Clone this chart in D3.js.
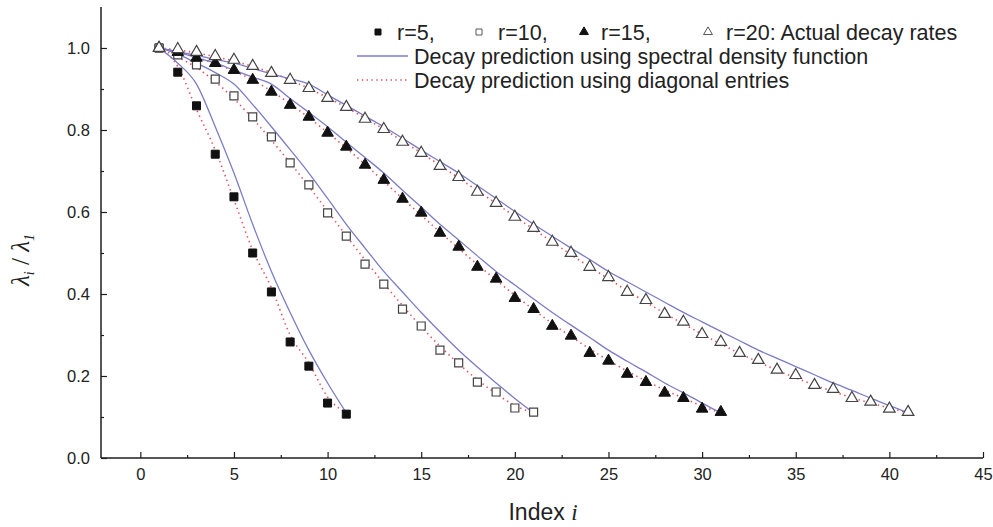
<!DOCTYPE html>
<html>
<head>
<meta charset="utf-8">
<script src="https://cdn.jsdelivr.net/npm/d3@7"></script>
<style>
  html, body { margin: 0; padding: 0; background: #ffffff; }
  svg { display: block; }
  text { font-family: "Liberation Sans", Arial, sans-serif; fill: #222; }
</style>
</head>
<body>
<svg id="chart" width="993" height="527"></svg>
<script>
// ---- Data (index i starts at 1 for every array) ----
const seriesNames = ["r=5", "r=10", "r=15", "r=20"];

// Actual decay rates (markers)
const actual5  = [1.0, 0.941, 0.859, 0.741, 0.637, 0.500, 0.405, 0.283, 0.224, 0.134, 0.107];
const actual10 = [1.0, 0.983, 0.959, 0.924, 0.883, 0.832, 0.783, 0.720, 0.666, 0.598, 0.541,
                  0.473, 0.424, 0.363, 0.322, 0.263, 0.232, 0.185, 0.161, 0.122, 0.112];
const actual15 = [1.0, 0.990, 0.976, 0.963, 0.946, 0.922, 0.893, 0.861, 0.832, 0.793, 0.759,
                  0.715, 0.678, 0.632, 0.598, 0.549, 0.515, 0.466, 0.437, 0.390, 0.363,
                  0.322, 0.298, 0.256, 0.237, 0.205, 0.185, 0.159, 0.146, 0.120, 0.112];
const actual20 = [1.0, 0.997, 0.990, 0.980, 0.971, 0.956, 0.939, 0.922, 0.902, 0.878, 0.856,
                  0.827, 0.802, 0.771, 0.744, 0.712, 0.685, 0.649, 0.622, 0.588, 0.561,
                  0.527, 0.500, 0.466, 0.441, 0.405, 0.385, 0.351, 0.332, 0.302, 0.283,
                  0.256, 0.239, 0.215, 0.202, 0.178, 0.168, 0.146, 0.137, 0.120, 0.112];

// Decay prediction using spectral density function (solid)
const spectral5  = [1.0, 0.963, 0.912, 0.808, 0.695, 0.570, 0.455, 0.355, 0.263, 0.183, 0.110];
const spectral10 = [1.0, 0.985, 0.963, 0.940, 0.912, 0.862, 0.808, 0.752, 0.695, 0.633, 0.570,
                    0.512, 0.455, 0.405, 0.355, 0.308, 0.263, 0.222, 0.183, 0.145, 0.110];
const spectral15 = [1.0, 0.990, 0.976, 0.963, 0.946, 0.929, 0.912, 0.877, 0.843, 0.808, 0.770,
                    0.733, 0.695, 0.653, 0.612, 0.570, 0.532, 0.493, 0.455, 0.422, 0.388,
                    0.355, 0.324, 0.294, 0.263, 0.236, 0.210, 0.183, 0.159, 0.134, 0.110];
const spectral20 = [1.0, 0.991, 0.982, 0.972, 0.963, 0.950, 0.937, 0.925, 0.912, 0.886, 0.860,
                    0.834, 0.808, 0.780, 0.751, 0.723, 0.695, 0.664, 0.633, 0.601, 0.570,
                    0.541, 0.512, 0.484, 0.455, 0.430, 0.405, 0.380, 0.355, 0.332, 0.309,
                    0.286, 0.263, 0.243, 0.223, 0.203, 0.183, 0.165, 0.146, 0.128, 0.110];

// Decay prediction using diagonal entries (dotted)
const diagonal5  = [1.0, 0.955, 0.850, 0.751, 0.630, 0.507, 0.415, 0.300, 0.232, 0.149, 0.110];
const diagonal10 = [1.0, 0.978, 0.952, 0.918, 0.876, 0.828, 0.775, 0.720, 0.662, 0.602, 0.542,
                    0.483, 0.426, 0.372, 0.320, 0.273, 0.230, 0.191, 0.157, 0.128, 0.110];
const diagonal15 = [1.0, 0.990, 0.977, 0.962, 0.944, 0.922, 0.895, 0.864, 0.830, 0.794, 0.756,
                    0.716, 0.675, 0.633, 0.592, 0.551, 0.511, 0.472, 0.434, 0.397, 0.362,
                    0.328, 0.296, 0.266, 0.238, 0.212, 0.188, 0.166, 0.146, 0.127, 0.110];
const diagonal20 = [1.0, 0.995, 0.988, 0.979, 0.968, 0.955, 0.940, 0.922, 0.901, 0.879, 0.855,
                    0.829, 0.802, 0.773, 0.744, 0.714, 0.683, 0.652, 0.621, 0.589, 0.558,
                    0.527, 0.496, 0.466, 0.437, 0.408, 0.380, 0.353, 0.327, 0.302, 0.278,
                    0.255, 0.234, 0.214, 0.195, 0.178, 0.162, 0.147, 0.134, 0.122, 0.110];

const xMajorTicks = [0, 5, 10, 15, 20, 25, 30, 35, 40, 45];
const xMinorTicks = [2.5, 7.5, 12.5, 17.5, 22.5, 27.5, 32.5, 37.5, 42.5];
const yMajorTicks = [0.0, 0.2, 0.4, 0.6, 0.8, 1.0];
const yMinorTicks = [0.1, 0.3, 0.5, 0.7, 0.9];

const legendActualLabels = ["r=5,", "r=10,", "r=15,", "r=20: Actual decay rates"];
const legendSpectralLabel = "Decay prediction using spectral density function";
const legendDiagonalLabel = "Decay prediction using diagonal entries";

// ---- Setup ----
const svg = d3.select("#chart");
const x = d3.scaleLinear().domain([-2.1, 45]).range([101, 983]);
const y = d3.scaleLinear().domain([0, 1.1]).range([458, 7]);

const toPts = arr => arr.map((v, k) => ({ i: k + 1, v }));

const spectralColor = "#7c7cc6";
const diagonalColor = "#e2525a";

// ---- Axes ----
const axisColor = "#1e1e1e";
const gx = svg.append("g").attr("transform", `translate(0,${y(0)})`);
gx.call(d3.axisBottom(x).tickValues(xMajorTicks).tickSize(-6).tickPadding(10).tickFormat(d3.format("d")));
gx.append("g").call(d3.axisBottom(x).tickValues(xMinorTicks).tickSize(-3).tickFormat(""))
  .select(".domain").remove();
gx.select(".domain").attr("d", `M${x(-2.1)},0H${x(45)}`);

const gy = svg.append("g").attr("transform", `translate(${x(-2.1)},0)`);
gy.call(d3.axisLeft(y).tickValues(yMajorTicks).tickSize(-6).tickPadding(11).tickFormat(d3.format(".1f")));
gy.append("g").call(d3.axisLeft(y).tickValues(yMinorTicks).tickSize(-3).tickFormat(""))
  .select(".domain").remove();
gy.select(".domain").attr("d", `M0,${y(0)}V${y(1.1)}`);

svg.selectAll(".domain").attr("stroke", axisColor).attr("stroke-width", 1.5);
svg.selectAll(".tick line").attr("stroke", axisColor).attr("stroke-width", 1.2);
svg.selectAll(".tick text")
  .style("font-family", "'Liberation Sans', Arial, sans-serif")
  .style("font-size", "16.5px").attr("fill", "#333");

// ---- Lines ----
const line = d3.line().x(d => x(d.i)).y(d => y(d.v)).curve(d3.curveMonotoneX);

const spectralAll = [spectral5, spectral10, spectral15, spectral20];
const diagonalAll = [diagonal5, diagonal10, diagonal15, diagonal20];

svg.append("g").selectAll("path").data(diagonalAll).join("path")
  .attr("d", d => line(toPts(d)))
  .attr("fill", "none").attr("stroke", diagonalColor).attr("stroke-width", 1.6)
  .attr("stroke-dasharray", "1.4,3.6");

svg.append("g").selectAll("path").data(spectralAll).join("path")
  .attr("d", d => line(toPts(d)))
  .attr("fill", "none").attr("stroke", spectralColor).attr("stroke-width", 1.3);

// ---- Markers ----
const sqSize = 64, triSize = 58;
const symSquare = d3.symbol().type(d3.symbolSquare).size(sqSize);
const symTri = d3.symbol().type(d3.symbolTriangle).size(triSize);

const markerDefs = [
  { data: actual5,  sym: symSquare, fill: "#111", stroke: "#111", sw: 1 },
  { data: actual10, sym: symSquare, fill: "#fff", stroke: "#444", sw: 1.2 },
  { data: actual15, sym: symTri,    fill: "#111", stroke: "#111", sw: 1 },
  { data: actual20, sym: symTri,    fill: "#fff", stroke: "#444", sw: 1.2 }
];

markerDefs.forEach(m => {
  svg.append("g").selectAll("path").data(toPts(m.data)).join("path")
    .attr("d", m.sym)
    .attr("transform", d => `translate(${x(d.i)},${y(d.v)})`)
    .attr("fill", m.fill).attr("stroke", m.stroke).attr("stroke-width", m.sw);
});

// ---- Legend ----
const leg = svg.append("g");
const legFont = "21.5px";
const legendItems = [
  { mx: 378, tx: 397, sym: d3.symbol().type(d3.symbolSquare).size(36), fill: "#111", stroke: "#111" },
  { mx: 479, tx: 498, sym: d3.symbol().type(d3.symbolSquare).size(36), fill: "#fff", stroke: "#555" },
  { mx: 584, tx: 601, sym: d3.symbol().type(d3.symbolTriangle).size(34), fill: "#111", stroke: "#111" },
  { mx: 708, tx: 726, sym: d3.symbol().type(d3.symbolTriangle).size(34), fill: "#fff", stroke: "#555" }
];
legendItems.forEach((it, k) => {
  leg.append("path").attr("d", it.sym()).attr("transform", `translate(${it.mx},32)`)
    .attr("fill", it.fill).attr("stroke", it.stroke).attr("stroke-width", 1);
  leg.append("text").attr("x", it.tx).attr("y", 32).attr("dy", "0.35em")
    .style("font-size", legFont).text(legendActualLabels[k]);
});
leg.append("line").attr("x1", 357).attr("x2", 408).attr("y1", 56).attr("y2", 56)
  .attr("stroke", spectralColor).attr("stroke-width", 1.3);
leg.append("text").attr("x", 414).attr("y", 56).attr("dy", "0.35em")
  .style("font-size", legFont).text(legendSpectralLabel);
leg.append("line").attr("x1", 357).attr("x2", 408).attr("y1", 80).attr("y2", 80)
  .attr("stroke", diagonalColor).attr("stroke-width", 1.5).attr("stroke-dasharray", "1.4,3.4");
leg.append("text").attr("x", 414).attr("y", 80).attr("dy", "0.35em")
  .style("font-size", legFont).text(legendDiagonalLabel);

// ---- Axis titles ----
const xt = svg.append("text").attr("x", 543).attr("y", 520).attr("text-anchor", "middle")
  .style("font-size", "23px");
xt.append("tspan").text("Index ");
xt.append("tspan").style("font-family", "'Liberation Serif', 'Times New Roman', serif")
  .style("font-style", "italic").text("i");

const yt = svg.append("text").attr("transform", "translate(29,260) rotate(-90)")
  .attr("text-anchor", "middle")
  .style("font-family", "'Liberation Serif', 'Times New Roman', serif")
  .style("font-style", "italic").style("font-size", "25px");
yt.append("tspan").text("λ");
yt.append("tspan").attr("dy", 5).style("font-size", "14px").text("i");
yt.append("tspan").attr("dy", -5).style("font-style", "normal").text(" / ");
yt.append("tspan").text("λ");
yt.append("tspan").attr("dy", 5).style("font-size", "14px").text("1");
</script>
</body>
</html>
